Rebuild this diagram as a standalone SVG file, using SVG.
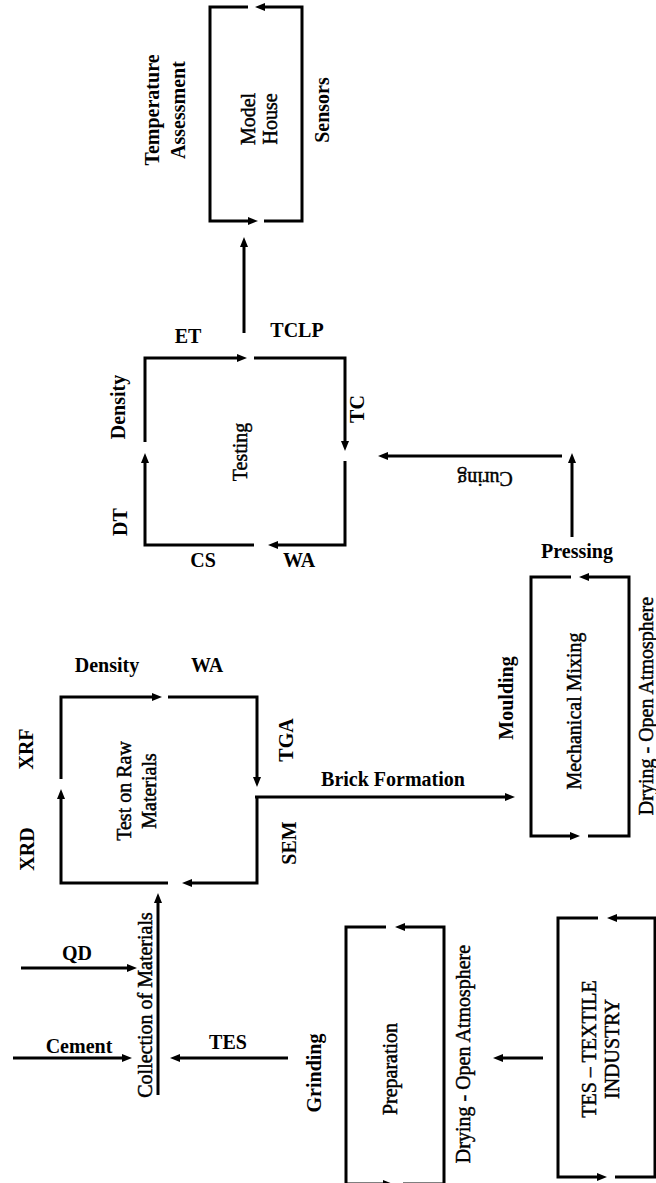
<svg xmlns="http://www.w3.org/2000/svg" width="656" height="1183" viewBox="0 0 656 1183">
<defs>
<marker id="ah" viewBox="0 0 10 8" refX="5" refY="4" markerWidth="10" markerHeight="8" markerUnits="userSpaceOnUse" orient="auto">
<path d="M0,0 L10,4 L0,8 z" fill="#000"/>
</marker>
<style>
.e{fill:none;stroke:#000;stroke-width:3;marker-end:url(#ah)}
text{font-family:"Liberation Serif","Times New Roman",serif;font-size:20px;fill:#000}
.b{font-weight:bold}
.h{text-anchor:middle}
.r{text-anchor:middle;dominant-baseline:central}
.m{stroke:#000;stroke-width:0.45}
</style>
</defs>
<rect width="656" height="1183" fill="#fff"/>

<g id="model-house">
<path class="e" d="M248,7 H210 V221 H253"/>
<path class="e" d="M264,221 H302 V7 H260"/>
<text class="r m" transform="translate(248,119) rotate(-90)">Model</text>
<text class="r m" transform="translate(270,119) rotate(-90)">House</text>
<text class="r b" transform="translate(152,110) rotate(-90)">Temperature</text>
<text class="r b" transform="translate(178,110) rotate(-90)">Assessment</text>
<text class="r b" transform="translate(322,110) rotate(-90)">Sensors</text>
</g>

<g id="testing">
<path class="e" d="M145,442 V358 H242"/>
<path class="e" d="M254,358 H345 V446"/>
<path class="e" d="M345,461 V545 H273"/>
<path class="e" d="M254,545 H145 V458"/>
<text class="r m" transform="translate(240,452) rotate(-90)">Testing</text>
<text class="h b" x="188" y="343">ET</text>
<text class="h b" x="297" y="337">TCLP</text>
<text class="r b" transform="translate(357,409) rotate(-90)">TC</text>
<text class="r b" transform="translate(118,407) rotate(-90)">Density</text>
<text class="r b" transform="translate(120,522) rotate(-90)">DT</text>
<text class="h b" x="203" y="567">CS</text>
<text class="h b" x="299" y="567">WA</text>
</g>

<g id="test-raw-materials">
<path class="e" d="M61,779 V697 H157"/>
<path class="e" d="M168,697 H257 V782"/>
<path class="e" d="M257,796 V883 H187"/>
<path class="e" d="M168,883 H61 V794"/>
<text class="r m" transform="translate(124,791) rotate(-90)">Test on Raw</text>
<text class="r m" transform="translate(149,791) rotate(-90)">Materials</text>
<text class="h b" x="107" y="672">Density</text>
<text class="h b" x="207" y="672">WA</text>
<text class="r b" transform="translate(26,749) rotate(-90)">XRF</text>
<text class="r b" transform="translate(27,849) rotate(-90)">XRD</text>
<text class="r b" transform="translate(286,740) rotate(-90)">TGA</text>
<text class="r b" transform="translate(289,843) rotate(-90)">SEM</text>
</g>

<g id="mechanical-mixing">
<path class="e" d="M571,577 H531 V836 H575"/>
<path class="e" d="M588,836 H629 V577 H584"/>
<text class="r m" transform="translate(574,711) rotate(-90)">Mechanical Mixing</text>
<text class="r b" transform="translate(506,698) rotate(-90)">Moulding</text>
<text class="r m" transform="translate(646,706) rotate(-90)">Drying - Open Atmosphere</text>
<text class="h b" x="577" y="558">Pressing</text>
</g>

<g id="preparation">
<path class="e" d="M386,927 H346 V1184 H388"/>
<path class="e" d="M403,1184 H444 V927 H400"/>
<text class="r m" transform="translate(390,1069) rotate(-90)">Preparation</text>
<text class="r m" transform="translate(463,1054) rotate(-90)">Drying - Open Atmosphere</text>
<text class="r b" transform="translate(314,1073) rotate(-90)">Grinding</text>
</g>

<g id="tes-textile-industry">
<path class="e" d="M598,918 H558 V1177 H602"/>
<path class="e" d="M615,1177 H655 V918 H612"/>
<text class="r m" transform="translate(589,1049) rotate(-90)">TES – TEXTILE</text>
<text class="r m" transform="translate(612,1049) rotate(-90)">INDUSTRY</text>
</g>

<g id="collection-of-materials">
<text class="r m" transform="translate(145,1005) rotate(-90)">Collection of Materials</text>
<text class="h b" x="77" y="960">QD</text>
<text class="h b" x="79" y="1053">Cement</text>
<text class="h b" x="228" y="1049">TES</text>
</g>

<g id="connectors">
<path class="e" d="M244,333 V242"/>
<path class="e" d="M572,537 V458"/>
<path class="e" d="M562,456 H383"/>
<text class="r m" transform="translate(485,479) rotate(180)">Curing</text>
<path class="e" d="M255,797 H510"/>
<text class="h b" x="393" y="786">Brick Formation</text>
<path class="e" d="M158,1095 V898"/>
<path class="e" d="M21,968 H132"/>
<path class="e" d="M13,1058 H127"/>
<path class="e" d="M288,1058 H175"/>
<path class="e" d="M543,1058 H498"/>
</g>
</svg>
